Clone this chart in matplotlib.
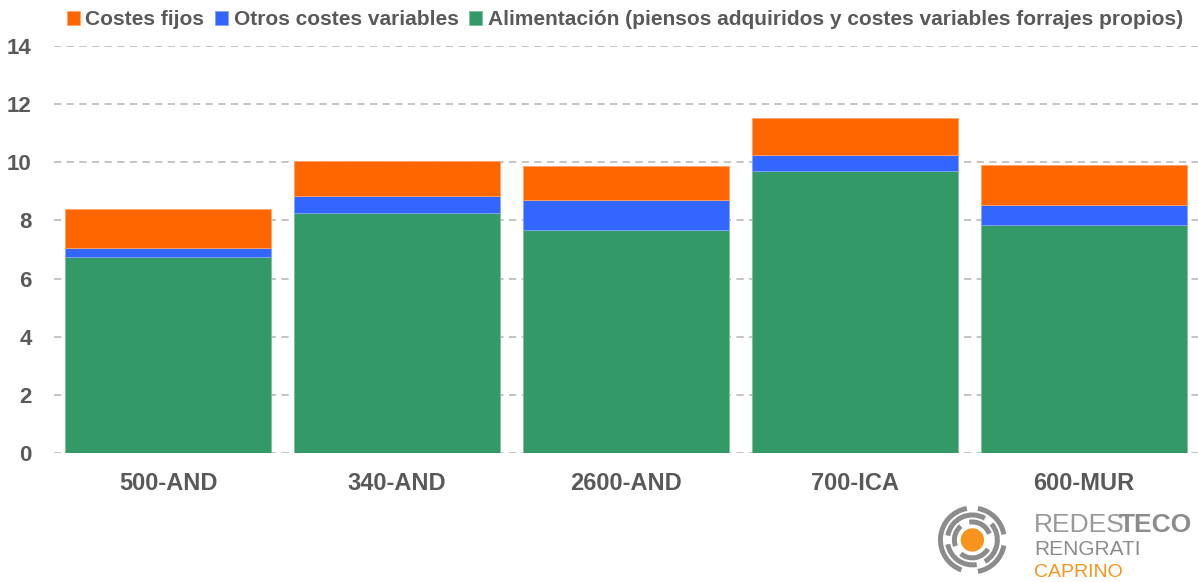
import matplotlib.pyplot as plt
from matplotlib import patches
import numpy as np

plt.rcParams['font.family'] = ['Liberation Sans', 'DejaVu Sans']

# coste por litro (estimado del grafico)
explotaciones = ['500-AND', '340-AND', '2600-AND', '700-ICA', '600-MUR']
alimentacion = [6.73, 8.25, 7.66, 9.69, 7.83]
otros_variables = [0.33, 0.58, 1.04, 0.55, 0.69]
costes_fijos = [1.33, 1.22, 1.17, 1.27, 1.40]
y_ticks = [0, 2, 4, 6, 8, 10, 12, 14]

GREEN = '#339966'
BLUE = '#3366FF'
ORANGE = '#FF6600'
TEXT = '#595959'
W, H = 1198, 582

fig = plt.figure(figsize=(W / 100, H / 100), dpi=100)
ax = fig.add_axes([0.045, 0.2216, 0.955, 0.6993])

x = np.arange(len(explotaciones))
alim = np.array(alimentacion)
otros = np.array(otros_variables)
fijos = np.array(costes_fijos)
w = 0.9
b_alim = ax.bar(x, alim, w, color=GREEN, edgecolor='#7fbf9f', linewidth=0.6,
                label='Alimentación (piensos adquiridos y costes variables forrajes propios)',
                zorder=3)
b_otros = ax.bar(x, otros, w, bottom=alim, color=BLUE, edgecolor='#85a3ff',
                 linewidth=0.6, label='Otros costes variables', zorder=3)
b_fijos = ax.bar(x, fijos, w, bottom=alim + otros, color=ORANGE,
                 edgecolor='#ffa366', linewidth=0.6, label='Costes fijos', zorder=3)

ax.set_xlim(-0.5, len(explotaciones) - 0.5)
ax.set_ylim(0, 14)
ax.set_yticks(y_ticks)
ax.yaxis.grid(True, linestyle=(0, (4, 3)), color='#BFBFBF', linewidth=1.3, zorder=0)
ax.set_axisbelow(True)
for s in ax.spines.values():
    s.set_visible(False)
ax.tick_params(axis='both', length=0, colors=TEXT)
ax.tick_params(axis='y', labelsize=16, pad=16)
ax.tick_params(axis='x', labelsize=17, pad=14)
ax.set_xticks(x)
ax.set_xticklabels(explotaciones, fontweight='bold', color=TEXT)
for t in ax.get_yticklabels():
    t.set_fontweight('bold')
    t.set_color(TEXT)

leg = fig.legend(handles=[b_fijos, b_otros, b_alim], loc='upper left',
                 bbox_to_anchor=(0.04, 1.015), ncol=3, frameon=False,
                 handlelength=0.65, handleheight=0.65, handletextpad=0.25,
                 columnspacing=0.5, prop={'size': 15, 'weight': 'bold'})
for t in leg.get_texts():
    t.set_color(TEXT)

# logo RedesTeco
lax = fig.add_axes([0.78, 0.0, 0.22, 0.16])
lax.set_xlim(0, 264)
lax.set_ylim(0, 93)
lax.set_aspect('equal')
lax.axis('off')
cx, cy = 38, 42
lax.add_patch(patches.Circle((cx, cy), 11, color='#F7941D'))
for r, segs in [(18, [(20, 100), (130, 200), (230, 330)]),
                (25, [(60, 170), (190, 280), (300, 40)]),
                (32, [(100, 250), (280, 350), (10, 80)])]:
    for a1, a2 in segs:
        lax.add_patch(patches.Arc((cx, cy), 2 * r, 2 * r, theta1=a1, theta2=a2,
                                  color='#8c8c8c', linewidth=3.6))


def px_text(px, py, s, **kw):
    fig.text(px / W, 1 - py / H, s, va='baseline', ha='left', **kw)


px_text(1034, 532, 'REDES', fontsize=19, color='#999999')
px_text(1119, 532, 'TECO', fontsize=19, color='#8c8c8c', fontweight='bold')
px_text(1034, 555, 'RENGRATI', fontsize=15, color='#8c8c8c')
px_text(1034, 577, 'CAPRINO', fontsize=14, color='#F7941D')

fig.savefig('out.png', dpi=100)
